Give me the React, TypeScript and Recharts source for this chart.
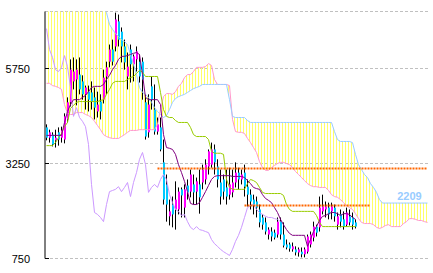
import React from 'react';
import {
  ComposedChart,
  Bar,
  Line,
  Area,
  XAxis,
  YAxis,
  CartesianGrid,
  ReferenceLine,
  ReferenceDot
} from 'recharts';

// price candles (104 sessions)
const opens = [
  4200, 3930, 4010, 3860, 4070, 3930, 3880, 4410, 4860, 5410,
  5460, 5590, 5410, 5070, 5140, 5120, 4990, 4620, 4880, 4930,
  5540, 5930, 6250, 6330, 6990, 6720, 6330, 5540, 6250, 5860,
  5990, 5930, 5930, 4860, 4070, 5280, 4670, 4090, 4200, 3280,
  2700, 1860, 2170, 2040, 2040, 2570, 2090, 2670, 2510, 2700,
  2510, 2700, 2750, 2830, 3170, 3220, 3620, 3170, 2750, 2830,
  2620, 2430, 2490, 2750, 3010, 2830, 3010, 2640, 2430, 2300,
  2250, 2040, 1830, 1700, 1380, 1460, 1430, 1380, 1720, 1380,
  1120, 1120, 990, 990, 910, 930, 860, 930, 1120, 1300,
  1590, 1570, 1990, 2040, 2090, 1990, 2090, 1640, 1910, 1780,
  1640, 1860, 1830, 1700
];
const highs = [
  4280, 4140, 4070, 4140, 4200, 4220, 4570, 4990, 5990, 6040,
  5990, 6040, 5570, 5300, 5300, 5410, 5250, 5140, 5070, 5720,
  5930, 6380, 6510, 7220, 7170, 6830, 6510, 6170, 6380, 6120,
  6330, 6120, 6040, 5070, 5070, 5540, 5330, 4460, 4460, 3880,
  2960, 2300, 2380, 2780, 2620, 2620, 2700, 2830, 3090, 2960,
  2880, 3090, 3220, 3360, 3620, 3800, 3750, 3360, 3090, 2960,
  3090, 3140, 3090, 3280, 3140, 3090, 3220, 2830, 2570, 2430,
  2380, 2170, 1910, 1830, 1570, 1570, 1510, 1830, 1830, 1700,
  1250, 1170, 1170, 1070, 1040, 1040, 1040, 1380, 1460, 1720,
  1640, 2380, 2430, 2250, 2220, 2220, 2170, 1960, 2040, 1990,
  2090, 2040, 1960, 1780
];
const lows = [
  3860, 3800, 3700, 3670, 3720, 3800, 3780, 4330, 4750, 5200,
  4780, 5070, 4930, 4670, 4620, 4670, 4410, 4460, 4410, 4830,
  5070, 5780, 5830, 6200, 6330, 5910, 5720, 5200, 5380, 5410,
  5670, 5380, 4930, 3880, 3930, 4670, 4010, 4010, 3570, 2170,
  1720, 1620, 1570, 1510, 1910, 1830, 1830, 2300, 2360, 2170,
  2170, 1930, 2570, 2700, 2960, 3140, 2960, 2620, 2170, 2300,
  2170, 2300, 2360, 2620, 2570, 2700, 2380, 2120, 2040, 1910,
  1830, 1570, 1510, 1380, 1250, 1200, 1250, 1300, 1250, 1040,
  990, 930, 930, 830, 800, 780, 780, 880, 1040, 1200,
  1330, 1460, 1910, 1830, 1780, 1780, 1720, 1510, 1570, 1510,
  1590, 1620, 1510, 1540
];
const closes = [
  3930, 4070, 3750, 3930, 3880, 4120, 4490, 4860, 5720, 5670,
  5720, 5200, 5070, 5250, 4930, 4880, 4720, 4800, 4620, 5510,
  5780, 6250, 5930, 7040, 6510, 6330, 5910, 5800, 5860, 6070,
  6200, 5540, 5460, 3960, 4800, 4930, 4090, 4280, 3620, 2300,
  2170, 1990, 1910, 2300, 2510, 2410, 2570, 2490, 2960, 2490,
  2780, 2360, 3090, 3220, 3570, 3620, 3280, 2830, 2380, 2510,
  2380, 2700, 2750, 3010, 2830, 2960, 2640, 2430, 2250, 2170,
  2090, 1700, 1640, 1460, 1510, 1330, 1300, 1720, 1380, 1090,
  1040, 1010, 1070, 910, 990, 860, 990, 1330, 1380, 1590,
  1430, 2090, 2120, 2120, 1910, 2120, 1860, 1860, 1720, 1590,
  1960, 1700, 1640, 1590
];

// conversion line (tenkan)
const tenkan = [
  3990, 3990, 3990, 3990, 3990, 3990, 4330, 4620, 4800, 4930,
  4930, 4930, 4990, 5040, 5140, 5250, 5280, 5280, 5280, 5330,
  5460, 5570, 5720, 5830, 5990, 6070, 6070, 6090, 6120, 6150,
  6170, 6120, 5590, 4990, 4930, 4930, 4930, 4930, 4800, 4010,
  3670, 3650, 3620, 3490, 3220, 3010, 2780, 2510, 2200, 2170,
  2170, 2220, 2360, 2510, 2670, 2830, 2910, 2930, 2930, 2930,
  2930, 2930, 2910, 2910, 2910, 2910, 2880, 2800, 2720, 2620,
  2590, 2570, 2430, 2330, 2280, 2220, 2090, 1960, 1780, 1640,
  1510, 1410, 1360, 1360, 1360, 1360, 1360, 1070, 1250, 1460,
  1590, 1750, 1860, 1880, 1930, 1960, 1960, 1930, 1880, 1930,
  1930, 1910, 1830, 1780
];

// base line (kijun)
const kijun = [
  3720, 3720, 3720, 3800, 3930, 4040, 4220, 4330, 4700, 4780,
  4860, 4880, 4880, 4880, 4880, 4880, 4880, 4880, 4910, 4930,
  5070, 5200, 5360, 5410, 5410, 5410, 5410, 5460, 5510, 5540,
  5620, 5700, 5650, 5540, 5540, 5540, 5540, 5540, 5120, 4670,
  4490, 4460, 4460, 4380, 4330, 4330, 4330, 4330, 4200, 4010,
  3960, 3960, 3960, 3960, 3880, 3570, 3520, 3520, 3520, 3490,
  2830, 2620, 2570, 2570, 2570, 2570, 2570, 2720, 2830, 2800,
  2750, 2620, 2490, 2460, 2460, 2460, 2460, 2460, 2460, 2410,
  2170, 2040, 1990, 1990, 1990, 1990, 1990, 1990, 1990, 1990,
  1880, 1700, 1590, 1590, 1590, 1590, 1590, 1590, 1590, 1590,
  1590, 1590, 1590, 1590
];

// lagging span (chikou), drawn from the first session
const chikou = [
  6800, 6250, 6040, 5720, 5670, 5780, 6090, 5800, 5250, 4490,
  4720, 4460, 4360, 4220, 3750, 2700, 1960, 1910, 1830, 1720,
  2170, 2510, 2540, 2570, 2640, 2510, 2620, 2750, 2380, 2750,
  3010, 3360, 3540, 3220, 2490, 2620, 2700, 2620, 2830, 2960,
  2830, 2430, 2220, 2040, 1990, 1880, 1910, 1720, 1570, 1510,
  1590, 1510, 1490, 1460, 1430, 1250, 1140, 1070, 990, 930,
  880, 830, 990, 1200, 1360, 1570, 1830, 2090, 2140, 2170,
  2040, 1960, 1910, 1860, 1830, 1830, 1800, 1780, 1720
];

// leading span A (pink) and B (light blue), 128 periods
const spanA = [
  5360, 5360, 5300, 5280, 5250, 5200, 4800, 4570, 4540, 4540,
  4590, 4590, 4590, 4540, 4510, 4460, 4360, 4250, 4140, 4010,
  3960, 3930, 3910, 3910, 3910, 3960, 4010, 4070, 4120, 4120,
  4120, 4140, 4140, 4140, 4140, 4140, 4140, 4280, 4670, 5010,
  5090, 5090, 5070, 5140, 5280, 5360, 5510, 5590, 5590, 5670,
  5780, 5780, 5780, 5800, 5880, 5830, 5460, 5330, 5330, 5330,
  5330, 5300, 4410, 4090, 4070, 4070, 4040, 3910, 3800, 3670,
  3540, 3300, 3140, 3070, 3070, 3140, 3200, 3250, 3280, 3280,
  3250, 3220, 3140, 3040, 2960, 2880, 2800, 2720, 2670, 2640,
  2640, 2620, 2620, 2620, 2540, 2430, 2380, 2360, 2300, 2220,
  2140, 2090, 2040, 1930, 1800, 1700, 1670, 1670, 1670, 1640,
  1570, 1540, 1570, 1620, 1640, 1590, 1590, 1590, 1590, 1670,
  1720, 1800, 1800, 1780, 1750, 1750, 1720, 1700
];
const spanB = [
  7900, 7880, 7850, 7820, 7800, 7780, 7750, 7720, 7700, 7680,
  7650, 7620, 7600, 7580, 7550, 7520, 7480, 7440, 7400, 7320,
  7220, 6910, 6780, 6670, 6590, 6510, 6460, 6380, 6120, 5860,
  5590, 5250, 5120, 5070, 4990, 4860, 4720, 4620, 4540, 4460,
  4510, 4670, 4860, 4960, 5010, 5040, 5070, 5120, 5170, 5220,
  5250, 5280, 5330, 5330, 5330, 5330, 5330, 5330, 5330, 5330,
  5330, 4930, 4490, 4460, 4460, 4460, 4460, 4380, 4330, 4330,
  4330, 4330, 4330, 4330, 4330, 4330, 4330, 4330, 4330, 4330,
  4330, 4330, 4330, 4330, 4330, 4330, 4330, 4330, 4330, 4330,
  4330, 4330, 4330, 4330, 4330, 4330, 4090, 3880, 3830, 3830,
  3830, 3830, 3800, 3490, 3220, 3090, 2960, 2880, 2720, 2620,
  2490, 2300, 2209, 2209, 2209, 2209, 2209, 2209, 2209, 2209,
  2209, 2209, 2209, 2209, 2209, 2209, 2209, 2209
];

const yTicks = [750, 3250, 5750];
const upperLevel = 3120;
const lowerLevel = 2145;
const lastSpanB = 2209;

const data = spanA.map((a, i) => ({
  i,
  range: i < opens.length ? [lows[i], highs[i]] : null,
  open: opens[i],
  high: highs[i],
  low: lows[i],
  close: closes[i],
  tenkan: tenkan[i] ?? null,
  kijun: kijun[i] ?? null,
  chikou: chikou[i] ?? null,
  spanA: a,
  spanB: spanB[i],
  cloud: [a, spanB[i]]
}));

const Candle = (props: any) => {
  const { x, y, width, height, payload } = props;
  if (!payload || payload.open == null) return null;
  const top = Math.min(y, y + height);
  const bottom = Math.max(y, y + height);
  const { open, close, high, low } = payload;
  const span = high - low || 1;
  const py = (v: number) => top + ((high - v) / span) * (bottom - top);
  const cx = Math.floor(x + width / 2) + 0.5;
  const bodyTop = py(Math.max(open, close));
  const bodyBottom = py(Math.min(open, close));
  const up = close >= open;
  return (
    <g>
      <line x1={cx} x2={cx} y1={top} y2={bottom} stroke="#000" strokeWidth={1} />
      <rect
        x={cx - 0.5}
        y={bodyTop}
        width={2}
        height={Math.max(1, bodyBottom - bodyTop)}
        fill={up ? '#ff00ff' : '#00c8ff'}
      />
    </g>
  );
};

const PriceTick = ({ x, y, payload }: any) => (
  <g>
    <line x1={x} x2={x + 4} y1={y} y2={y} stroke="#000" />
    <text
      x={x - 15}
      y={y}
      dy={4}
      textAnchor="end"
      fontSize={11}
      fill="#000"
      fontFamily="'Liberation Sans', Arial, sans-serif"
    >
      {payload.value}
    </text>
  </g>
);

export default function App() {
  return (
    <div style={{ position: 'absolute', left: 0, top: 0, background: '#fff' }}>
      <ComposedChart
        width={433}
        height={273}
        data={data}
        margin={{ top: 11.5, right: 4, bottom: 14.5, left: 0 }}
      >
        <defs>
          <pattern id="cloudStripes" patternUnits="userSpaceOnUse" x={0} y={0} width={3} height={4}>
            <rect x={0} y={0} width={1} height={4} fill="#ffff66" />
          </pattern>
        </defs>
        <CartesianGrid vertical={false} stroke="#c0c0c0" strokeDasharray="3 2" />
        <XAxis dataKey="i" hide />
        <YAxis
          domain={[750, 7250]}
          ticks={yTicks}
          interval={0}
          allowDataOverflow
          width={45}
          tickSize={0}
          tickMargin={0}
          tickLine={false}
          axisLine={{ stroke: '#000' }}
          tick={<PriceTick />}
        />
        <Area
          dataKey="cloud"
          stroke="none"
          fill="url(#cloudStripes)"
          fillOpacity={1}
          isAnimationActive={false}
        />
        <Line dataKey="spanA" stroke="#ff99cc" strokeWidth={1} dot={false} isAnimationActive={false} />
        <Line dataKey="spanB" stroke="#99ccff" strokeWidth={1} dot={false} isAnimationActive={false} />
        <Line dataKey="chikou" stroke="#cc99ff" strokeWidth={1} dot={false} isAnimationActive={false} />
        <Bar dataKey="range" barSize={3} shape={<Candle />} isAnimationActive={false} />
        <Line dataKey="kijun" stroke="#99cc00" strokeWidth={1} dot={false} isAnimationActive={false} />
        <Line dataKey="tenkan" stroke="#800080" strokeWidth={1} dot={false} isAnimationActive={false} />
        <ReferenceLine
          segment={[{ x: 37, y: upperLevel }, { x: 127, y: upperLevel }]}
          stroke="#ff6600"
          strokeWidth={2}
          strokeDasharray="2 1"
        />
        <ReferenceLine
          segment={[{ x: 66, y: lowerLevel }, { x: 108, y: lowerLevel }]}
          stroke="#ff6600"
          strokeWidth={2}
          strokeDasharray="2 1"
        />
        <ReferenceDot
          x={121}
          y={lastSpanB}
          r={0}
          fill="none"
          stroke="none"
          label={{
            value: String(lastSpanB),
            position: 'top',
            offset: 3,
            fill: '#99ccff',
            fontSize: 11,
            fontWeight: 'bold',
            fontFamily: "'Liberation Sans', Arial, sans-serif"
          }}
        />
      </ComposedChart>
    </div>
  );
}
